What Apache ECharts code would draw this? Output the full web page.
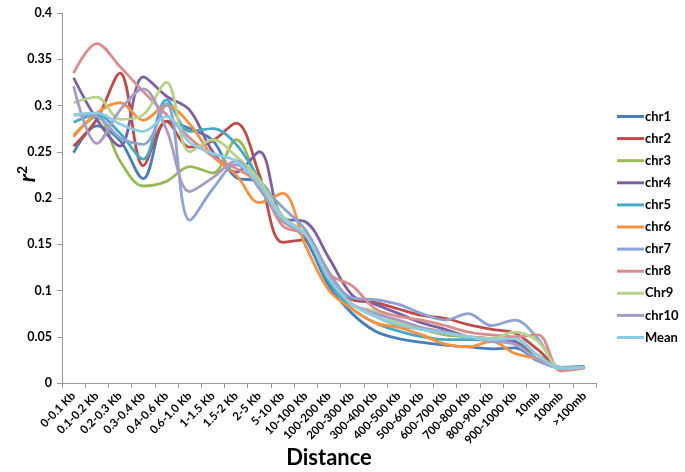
<!DOCTYPE html>
<html>
<head>
<meta charset="utf-8">
<script src="https://cdn.jsdelivr.net/npm/echarts@6/dist/echarts.min.js"></script>
<style>html,body{margin:0;padding:0;background:#fff}#c{width:685px;height:472px}</style>
</head>
<body>
<div id="c"></div>
<script>
const categories = ["0-0.1 Kb","0.1-0.2 Kb","0.2-0.3 Kb","0.3-0.4 Kb","0.4-0.6 Kb","0.6-1.0 Kb","1-1.5 Kb","1.5-2 Kb","2-5 Kb","5-10 Kb","10-100 Kb","100-200 Kb","200-300 Kb","300-400 Kb","400-500 Kb","500-600 Kb","600-700 Kb","700-800 Kb","800-900 Kb","900-1000 Kb","10mb","100mb",">100mb"];
const yTicks = [0, 0.05, 0.1, 0.15, 0.2, 0.25, 0.3, 0.35, 0.4];

const chr1  = [0.249,0.278,0.262,0.221,0.283,0.275,0.262,0.222,0.218,0.180,0.155,0.105,0.075,0.056,0.048,0.044,0.041,0.039,0.037,0.038,0.024,0.017,0.018];
const chr2  = [0.256,0.285,0.335,0.235,0.283,0.255,0.262,0.281,0.225,0.152,0.155,0.118,0.090,0.087,0.080,0.073,0.070,0.063,0.058,0.054,0.036,0.016,0.017];
const chr3  = [0.268,0.288,0.240,0.213,0.218,0.234,0.227,0.263,0.215,0.175,0.160,0.110,0.085,0.072,0.062,0.058,0.052,0.050,0.048,0.045,0.030,0.016,0.017];
const chr4  = [0.330,0.285,0.256,0.331,0.310,0.295,0.250,0.228,0.250,0.178,0.174,0.135,0.095,0.085,0.075,0.065,0.058,0.050,0.048,0.045,0.025,0.016,0.017];
const chr5  = [0.282,0.290,0.270,0.242,0.306,0.272,0.275,0.258,0.220,0.180,0.160,0.110,0.080,0.065,0.056,0.050,0.047,0.047,0.046,0.042,0.025,0.017,0.018];
const chr6  = [0.266,0.292,0.303,0.284,0.300,0.280,0.245,0.225,0.195,0.205,0.148,0.100,0.080,0.065,0.060,0.052,0.042,0.039,0.045,0.032,0.026,0.016,0.017];
const chr7  = [0.290,0.288,0.265,0.258,0.302,0.176,0.210,0.236,0.215,0.190,0.165,0.120,0.092,0.090,0.085,0.075,0.068,0.075,0.062,0.068,0.048,0.016,0.017];
const chr8  = [0.335,0.367,0.342,0.315,0.290,0.265,0.245,0.232,0.215,0.170,0.160,0.118,0.105,0.080,0.072,0.068,0.062,0.055,0.052,0.050,0.052,0.013,0.016];
const chr9  = [0.303,0.309,0.285,0.290,0.325,0.250,0.263,0.245,0.220,0.180,0.160,0.115,0.085,0.077,0.065,0.060,0.055,0.050,0.048,0.055,0.045,0.016,0.017];
const chr10 = [0.321,0.259,0.295,0.318,0.274,0.207,0.222,0.240,0.210,0.175,0.160,0.115,0.085,0.075,0.068,0.060,0.055,0.050,0.045,0.042,0.025,0.016,0.017];
const mean  = [0.290,0.292,0.280,0.272,0.288,0.260,0.248,0.240,0.215,0.178,0.160,0.113,0.085,0.072,0.063,0.058,0.054,0.050,0.047,0.048,0.030,0.016,0.017];

const seriesNames = ["chr1","chr2","chr3","chr4","chr5","chr6","chr7","chr8","Chr9","chr10","Mean"];
const seriesData = [chr1,chr2,chr3,chr4,chr5,chr6,chr7,chr8,chr9,chr10,mean];
const colors = ["#4A7EBB","#BE4B48","#98B954","#7D60A0","#46AAC5","#F69240","#8CA3D3","#DB8D8B","#B8D18D","#A99BC7","#8CCDE3"];

const FONT = "Lato, 'Liberation Sans', sans-serif";
const chart = echarts.init(document.getElementById('c'), null, {renderer:'canvas'});
chart.setOption({
  animation: false,
  backgroundColor: '#fff',
  color: colors,
  grid: {left: 62, right: 89, top: 13, bottom: 89, containLabel: false, outerBoundsMode: 'none'},
  legend: {
    orient: 'vertical', left: 612, top: 105,
    itemWidth: 27, itemHeight: 14, itemGap: 9.1,
    icon: 'path://M0,6 L27,6 L27,9 L0,9 Z',
    textStyle: {fontFamily: FONT, fontWeight: 'bold', fontSize: 13, color: '#000', padding: [0,0,0,-4]},
    data: seriesNames
  },
  graphic: [{
    type: 'text', left: 15, top: 166, rotation: Math.PI / 2,
    style: {
      text: '{r|r}{s|2}',
      rich: {
        r: {fontFamily: FONT, fontWeight: 'bold', fontStyle: 'italic', fontSize: 23, fill: '#000'},
        s: {fontFamily: FONT, fontWeight: 'bold', fontSize: 14, fill: '#000', padding: [0,0,12,0]}
      }
    }
  }],
  xAxis: {
    type: 'category', data: categories, boundaryGap: true,
    name: 'Distance', nameLocation: 'middle', nameGap: 64, nameMoveOverlap: false,
    nameTextStyle: {fontFamily: FONT, fontWeight: 'bold', fontSize: 22, color: '#000'},
    axisLine: {lineStyle: {color: '#999', width: 1}},
    axisTick: {show: true, alignWithLabel: false, length: 5, lineStyle: {color: '#999'}},
    axisLabel: {rotate: 45, interval: 0, fontFamily: FONT, fontWeight: 'bold', fontSize: 11.5, color: '#000', margin: 11},
    splitLine: {show: false}
  },
  yAxis: {
    type: 'value', min: 0, max: 0.4, interval: 0.05,
    axisLine: {show: true, lineStyle: {color: '#999', width: 1}},
    axisTick: {show: true, length: 5, lineStyle: {color: '#999'}},
    axisLabel: {fontFamily: FONT, fontWeight: 'bold', fontSize: 12.5, color: '#000', margin: 10,
      formatter: v => { const t = yTicks.find(x => Math.abs(x - v) < 1e-9); return String(+(t ?? v).toFixed(2)); }},
    splitLine: {show: false}
  },
  series: seriesNames.map((n, i) => ({
    name: n, type: 'line', data: seriesData[i], smooth: 0.35,
    symbol: 'none', lineStyle: {width: 2.8, color: colors[i]}, itemStyle: {color: colors[i]}
  }))
});
</script>
</body>
</html>
